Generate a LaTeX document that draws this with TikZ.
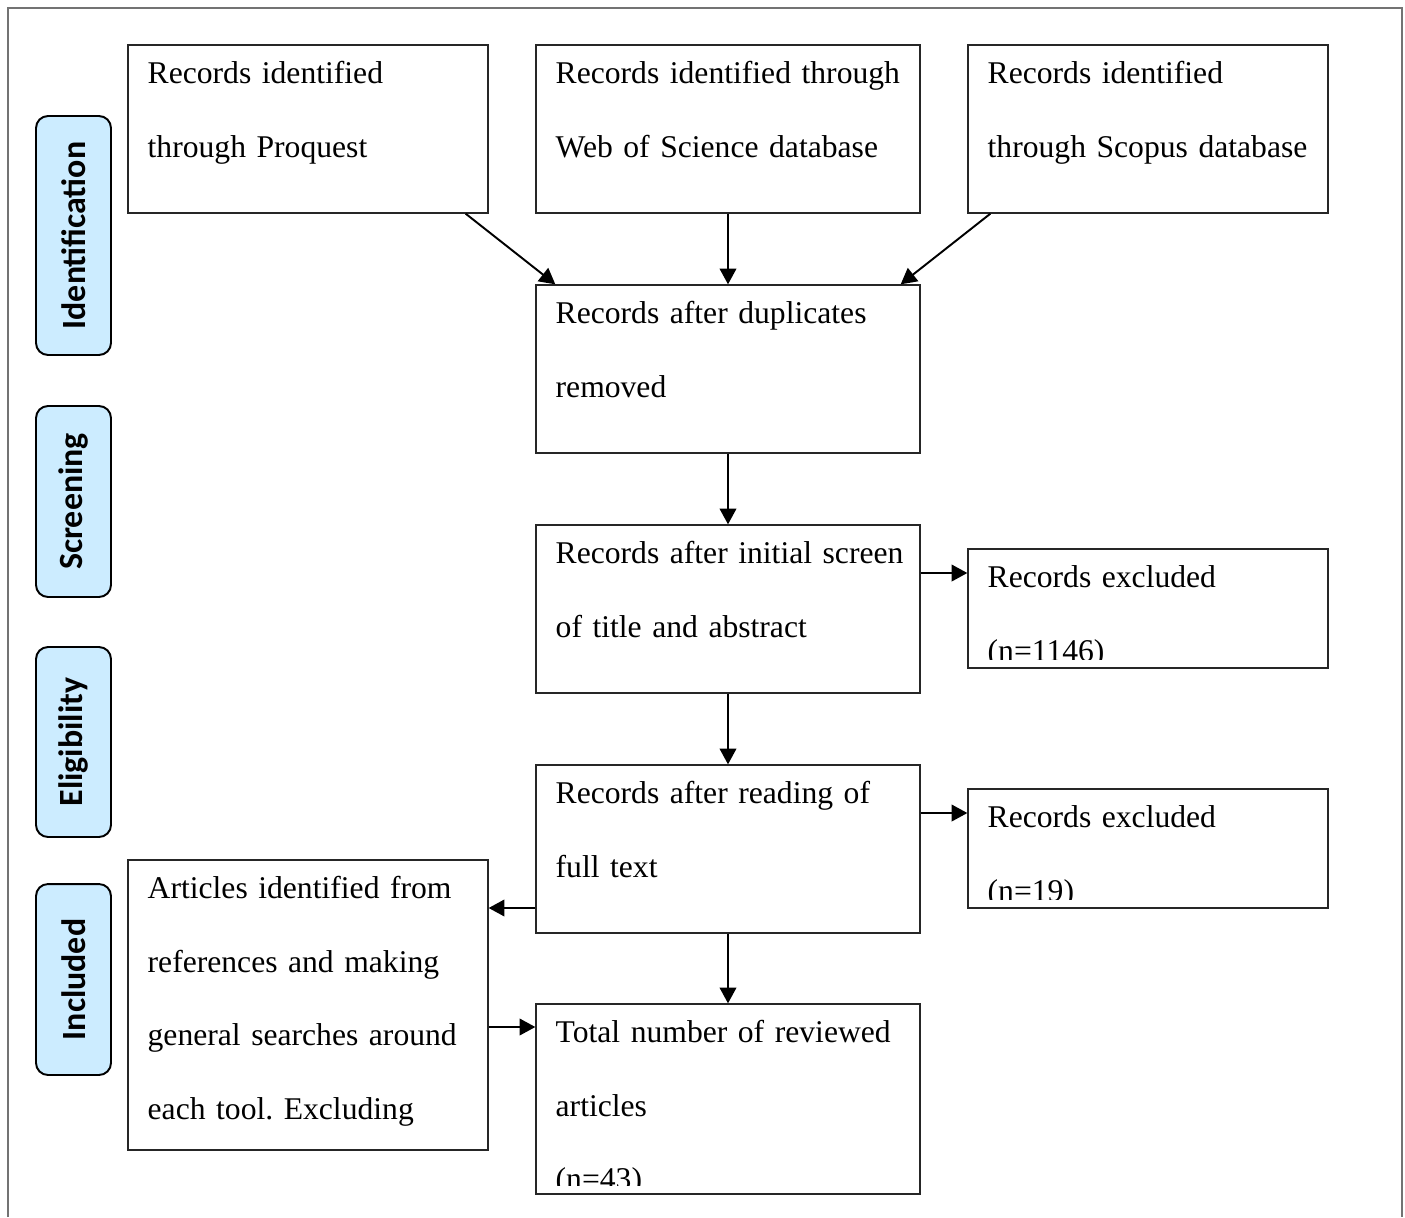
\documentclass[tikz,border=0pt]{standalone}
\usepackage{fontspec}
\setmainfont{Liberation Serif}
\newfontfamily\phasefont{Carlito}
\usetikzlibrary{arrows.meta}
\definecolor{phaseblue}{HTML}{CCECFF}
\frenchspacing

\begin{document}
\begin{tikzpicture}[
x=0.02cm, y=-0.02cm,
>={Triangle[length=9pt,width=9.5pt]},
frame/.style={draw=black!55, line width=1pt},
stagebox/.style={draw=black!85, line width=0.8pt, fill=white, inner sep=0pt},
boxtext/.style={
    anchor=base west,
    inner sep=0pt,
    text width=8cm,
    align=left,
    font=\fontsize{18}{42}\selectfont
},
phase/.style={
    draw,
    line width=1.1pt,
    rounded corners=0.24cm,
    fill=phaseblue,
    rotate=90,
    minimum height=1.5cm,
    inner sep=0pt,
    font=\phasefont\bfseries\fontsize{19.3}{23}\selectfont
},
flow/.style={->, line width=1.1pt}
]

\useasboundingbox (0,0) rectangle (1405,1217);

% =====================================================
% Outer frame (open at the bottom)
% =====================================================
\draw[frame] (8,1217) -- (8,8) -- (1402,8) -- (1402,1217);

% =====================================================
% Phase labels
% =====================================================
\node[phase, minimum width=4.78cm] (phident) at (73.5,235.5) {Identification};
\node[phase, minimum width=3.82cm] (phscreen) at (73.5,501.5) {Screening};
\node[phase, minimum width=3.80cm] (phelig) at (73.5,742) {Eligibility};
\node[phase, minimum width=3.82cm] (phincl) at (73.5,979.5) {Included};

% =====================================================
% Boxes
% =====================================================
\node[stagebox, minimum width=7.2cm, minimum height=3.36cm] (prq) at (308,129) {};
\node[stagebox, minimum width=7.68cm, minimum height=3.36cm] (wos) at (728,129) {};
\node[stagebox, minimum width=7.2cm, minimum height=3.36cm] (sco) at (1148,129) {};
\node[stagebox, minimum width=7.68cm, minimum height=3.36cm] (dup) at (728,369) {};
\node[stagebox, minimum width=7.68cm, minimum height=3.36cm] (scr) at (728,609) {};
\node[stagebox, minimum width=7.2cm, minimum height=2.38cm] (exc1) at (1148,608.5) {};
\node[stagebox, minimum width=7.68cm, minimum height=3.36cm] (rd) at (728,849) {};
\node[stagebox, minimum width=7.2cm, minimum height=2.38cm] (exc2) at (1148,848.5) {};
\node[stagebox, minimum width=7.2cm, minimum height=5.8cm] (art) at (308,1005) {};
\node[stagebox, minimum width=7.68cm, minimum height=3.8cm] (tot) at (728,1099) {};

% Box texts
\node[boxtext] (prqtxt) at ([shift={(20,39)}]prq.north west) {Records identified\\through Proquest};
\node[boxtext] (wostxt) at ([shift={(20,39)}]wos.north west) {Records identified through\\Web of Science database};
\node[boxtext] (scotxt) at ([shift={(20,39)}]sco.north west) {Records identified\\through Scopus database};
\node[boxtext] (duptxt) at ([shift={(20,39)}]dup.north west) {Records after duplicates\\removed};
\node[boxtext] (scrtxt) at ([shift={(20,39)}]scr.north west) {Records after initial screen\\of title and abstract};
\node[boxtext] (rdtxt) at ([shift={(20,39)}]rd.north west) {Records after reading of\\full text};
\node[boxtext] (arttxt) at ([shift={(20,39)}]art.north west) {Articles identified from\\references and making\\general searches around\\each tool. Excluding};

% Texts cut off at the bottom of their boxes
\begin{scope}
\clip (exc1.north west) rectangle ([yshift=0.18cm]exc1.south east);
\node[boxtext] (exc1txt) at ([shift={(20,39)}]exc1.north west) {Records excluded\\(n=1146)};
\end{scope}
\begin{scope}
\clip (exc2.north west) rectangle ([yshift=0.18cm]exc2.south east);
\node[boxtext] (exc2txt) at ([shift={(20,39)}]exc2.north west) {Records excluded\\(n=19)};
\end{scope}
\begin{scope}
\clip (tot.north west) rectangle ([yshift=0.18cm]tot.south east);
\node[boxtext] (tottxt) at ([shift={(20,39)}]tot.north west) {Total number of reviewed\\articles\\(n=43)};
\end{scope}

% =====================================================
% Connectors
% =====================================================
\draw[flow] ([xshift=-0.46cm]prq.south east) -- ([xshift=0.4cm]dup.north west);
\draw[flow] (wos.south) -- (dup.north);
\draw[flow] ([xshift=0.46cm]sco.south west) -- ([xshift=-0.4cm]dup.north east);
\draw[flow] (dup.south) -- (scr.north);

\coordinate (scrout) at ([yshift=0.72cm]scr.east);
\draw[flow] (scrout) -- (scrout -| exc1.west);

\draw[flow] (scr.south) -- (rd.north);

\coordinate (rdout) at ([yshift=0.72cm]rd.east);
\draw[flow] (rdout) -- (rdout -| exc2.west);

\coordinate (rdleft) at ([yshift=-1.18cm]rd.west);
\draw[flow] (rdleft) -- (rdleft -| art.east);

\draw[flow] (rd.south) -- (tot.north);

\coordinate (artout) at ([yshift=-0.44cm]art.east);
\draw[flow] (artout) -- (artout -| tot.west);

\end{tikzpicture}
\end{document}
